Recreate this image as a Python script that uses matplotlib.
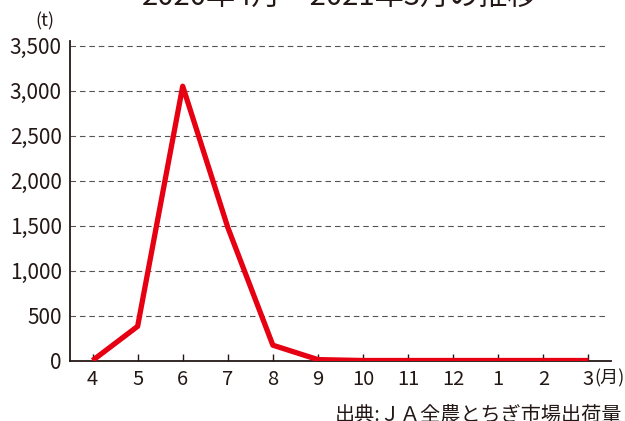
import matplotlib
matplotlib.use("Agg")
import matplotlib.pyplot as plt

plt.rcParams['font.family'] = ['Noto Sans CJK JP', 'DejaVu Sans']

# monthly shipments (t), Apr 2020 - Mar 2021
months = ['4', '5', '6', '7', '8', '9', '10', '11', '12', '1', '2', '3']
values = [0, 380, 3050, 1480, 170, 10, 0, 0, 0, 0, 0, 0]
yticks = [0, 500, 1000, 1500, 2000, 2500, 3000, 3500]

ink = '#231815'

fig = plt.figure(figsize=(6.25, 4.21), dpi=100)
ax = fig.add_axes([0.112, 0.1437, 0.8656, 0.7583])

x = list(range(len(months)))
ax.plot(x, values, color='#E60012', lw=3.8, solid_joinstyle='round',
        solid_capstyle='butt', zorder=3)

ax.set_xlim(-0.5, 11.5)
ax.set_ylim(0, 3550)
ax.set_xticks(x)
ax.set_xticklabels(months)
ax.set_yticks(yticks)
ax.set_yticklabels([f'{v:,}' for v in yticks])

for v in yticks[1:]:
    ax.axhline(v, xmin=0, xmax=0.994, color='#555555', lw=0.8,
               linestyle=(0, (5, 3.5)), zorder=1)

for s in ['top', 'right']:
    ax.spines[s].set_visible(False)
for s in ['left', 'bottom']:
    ax.spines[s].set_color(ink)
    ax.spines[s].set_linewidth(1.3)

ax.tick_params(axis='x', direction='in', length=5, width=1, color=ink,
               labelsize=14.5, labelcolor=ink, pad=6)
ax.tick_params(axis='y', length=0, labelsize=15, labelcolor=ink, pad=6)

fig.text(45 / 625, 1 - 21 / 421, '(t)', fontsize=13, color=ink,
         ha='center', va='center')
fig.text(594 / 625, 1 - 378 / 421, '(月)', fontsize=13, color=ink,
         ha='left', va='center')
fig.text(340 / 625, 1 - 6 / 421, '2020年4月～2021年3月の推移', fontsize=21,
         color=ink, ha='center', va='baseline')
fig.text(622 / 625, 1 - 421 / 421, '出典:ＪＡ全農とちぎ市場出荷量', fontsize=14.5,
         color=ink, ha='right', va='baseline')

fig.savefig('out.png', dpi=100)
